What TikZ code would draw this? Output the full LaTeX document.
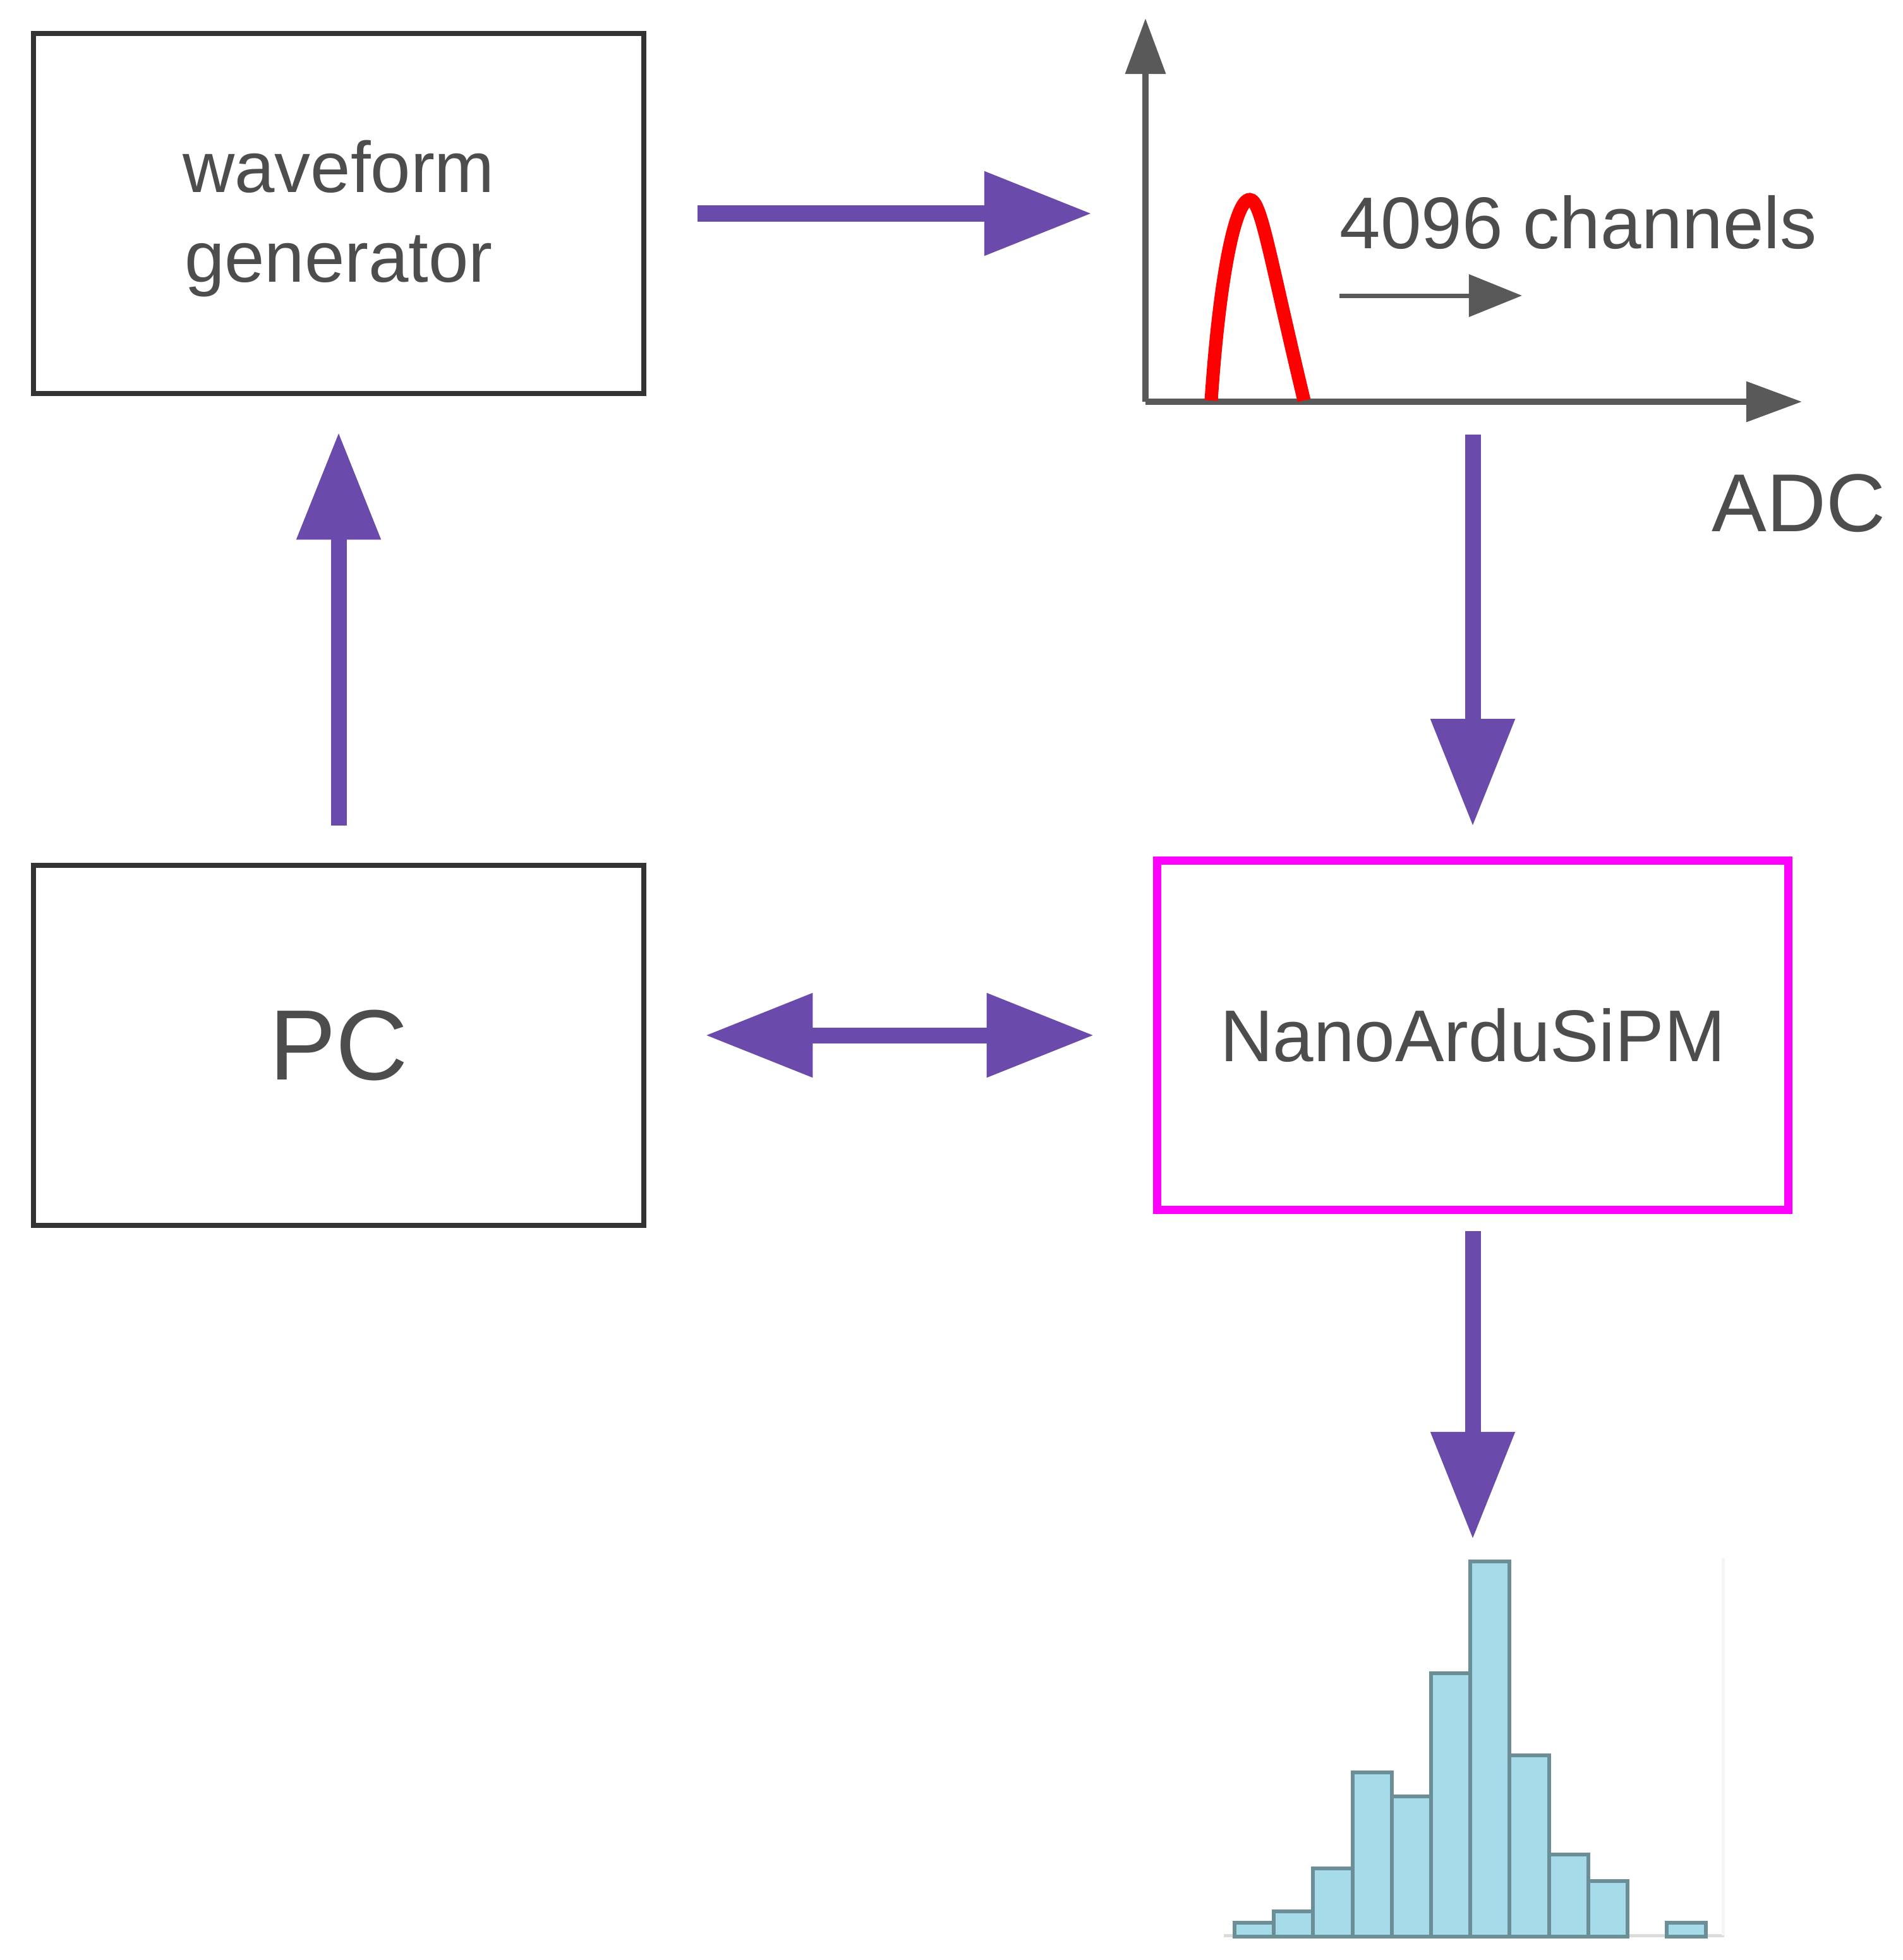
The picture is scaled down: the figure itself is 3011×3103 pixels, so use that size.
\documentclass[tikz,border=0pt]{standalone}
\usepackage{fontspec}
\setmainfont{Liberation Sans}
\usepackage{xcolor}
\usepackage{tikz}
\usetikzlibrary{positioning, arrows.meta, calc}
\definecolor{flowpurple}{HTML}{6A4BAB}
\definecolor{labelgray}{HTML}{4D4D4D}
\definecolor{axisgray}{HTML}{595959}
\definecolor{boxline}{HTML}{333333}
\definecolor{boxmagenta}{HTML}{FF00FF}
\definecolor{binblue}{HTML}{A6DCE9}
\definecolor{binedge}{HTML}{6C8F97}

\tikzset{
  block/.style={draw=boxline, line width=0.08cm, minimum width=9.66cm, minimum height=5.7cm,
                text=labelgray, align=center, inner sep=0pt},
  flow/.style={draw=flowpurple, line width=0.25cm, -{Triangle[length=1.7cm, width=1.27cm]}},
  bothways/.style={draw=flowpurple, line width=0.25cm,
                   {Triangle[length=1.7cm, width=1.27cm]}-{Triangle[length=1.7cm, width=1.27cm]}},
  axis/.style={draw=axisgray, line width=0.1cm, -{Triangle[length=0.88cm, width=0.62cm]}},
  chanarrow/.style={draw=axisgray, line width=0.07cm, -{Triangle[length=0.84cm, width=0.66cm]}},
  bin/.style={fill=binblue, draw=binedge, line width=0.06cm}
}

\begin{document}
\begin{tikzpicture}[x=0.01cm, y=-0.01cm]
    \useasboundingbox (0,0) rectangle (3011,3103);

    % boxes
    \node[block, font=\fontsize{32.4}{40.6}\selectfont] (wave) at (536,338) {\rule{0pt}{28pt}waveform\\generator};
    \node[block, font=\fontsize{45}{54}\selectfont] (pc) at (536,1655) {PC};
    \node[block, draw=boxmagenta, line width=0.13cm, minimum width=9.99cm, minimum height=5.52cm,
          font=\fontsize{33}{40}\selectfont] (nano) at (2331,1639) {NanoArduSiPM};

    % ADC spectrum sketch
    \coordinate (orig) at (1813,636);
    \coordinate (ytip) at (1813,29);
    \coordinate (xtip) at (2852,636);
    \draw[axis] (orig) -- (ytip);
    \draw[axis] (orig) -- (xtip);
    \draw[red, line width=0.21cm] (1917,634) .. controls (1930,440) and (1955,316) .. (1978,316)
         .. controls (1996,316) and (2008,400) .. (2064,634);
    \node[font=\fontsize{33}{40}\selectfont, text=labelgray, anchor=base west, inner sep=0pt]
         (chan) at (2120,393) {4096 channels};
    \coordinate (chstart) at (2120,468);
    \coordinate (chend) at (2409,468);
    \draw[chanarrow] (chstart) -- (chend);
    \node[font=\fontsize{37}{44}\selectfont, text=labelgray, anchor=base, inner sep=0pt]
         (adc) at (2847,841) {ADC};

    % histogram
    \draw[black!14, line width=0.05cm] (1937,3064) -- (2729,3064);
    \draw[black!4, line width=0.05cm] (2727,2467) -- (2727,3064);
    \foreach \h [count=\i from 0] in {22,40,108,260,222,417,594,287,130,88,0,22} {
      \ifnum\h>0
        \draw[bin] (1954+62.2*\i,3066) rectangle ++(62.2,-\h);
      \fi
    }
    \coordinate (histtop) at (2358,2472);

    % connections
    \draw[flow, shorten <=0.81cm, shorten >=0.85cm] (wave.east) -- (wave.east -| orig);
    \draw[flow, shorten <=0.59cm, shorten >=0.57cm] (pc.north) -- (wave.south);
    \draw[flow, shorten <=0.52cm, shorten >=0.48cm] (orig -| nano.north) -- (nano.north);
    \draw[bothways, shorten <=0.93cm, shorten >=0.93cm] (pc.east |- nano.west) -- (nano.west);
    \draw[flow, shorten <=0.27cm, shorten >=0.35cm] (nano.south) -- (nano.south |- histtop);
\end{tikzpicture}
\end{document}
